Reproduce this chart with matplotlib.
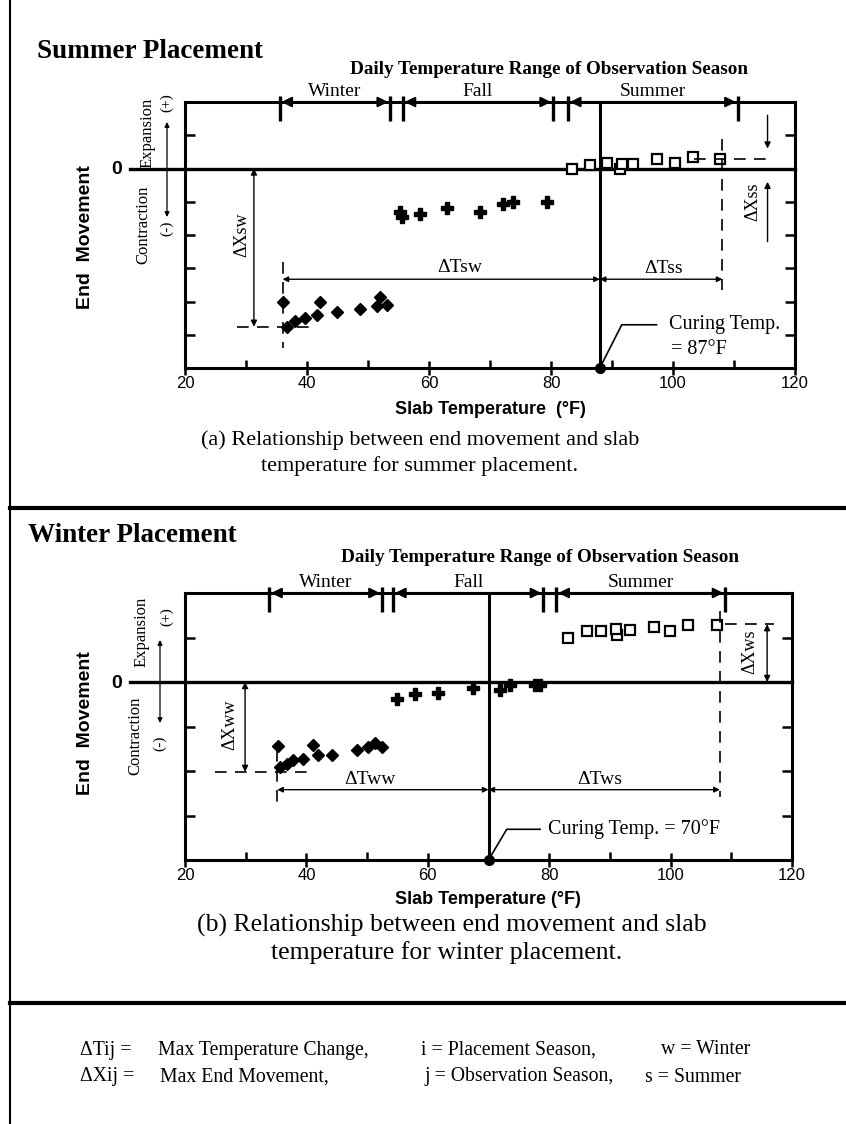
import matplotlib.pyplot as plt
from matplotlib.lines import Line2D

W, H = 846, 1124
SERIF = 'Liberation Serif'
SANS = 'Liberation Sans'

# (a) summer placement: slab temperature (F) vs end movement (scan units)
a_winter_t = [36.1, 36.7, 38.0, 39.7, 41.6, 42.1, 44.9, 48.7, 51.5, 52.0, 53.1]
a_winter_x = [-4.03, -4.76, -4.6, -4.5, -4.4, -4.0, -4.33, -4.24, -4.15, -3.85, -4.1]
a_fall_t = [55.2, 55.6, 58.5, 63.0, 68.4, 72.1, 73.8, 79.3]
a_fall_x = [-1.3, -1.45, -1.36, -1.18, -1.3, -1.06, -1.0, -1.0]
a_summer_t = [83.4, 86.4, 89.1, 91.3, 91.6, 93.5, 97.3, 100.3, 103.3, 107.7]
a_summer_x = [0.0, 0.12, 0.18, 0.0, 0.15, 0.15, 0.28, 0.18, 0.36, 0.30]
a_seasons = [35.5, 53.6, 55.7, 80.3, 82.8, 110.6]
a_cure = 88

# (b) winter placement
b_winter_t = [35.4, 35.7, 36.8, 37.8, 39.4, 41.1, 41.9, 44.2, 48.3, 50.1, 51.3, 52.4]
b_winter_x = [-1.43, -1.91, -1.84, -1.76, -1.73, -1.42, -1.64, -1.64, -1.53, -1.47, -1.36, -1.47]
b_fall_t = [54.9, 57.9, 61.7, 67.4, 71.9, 73.5, 77.7, 78.5]
b_fall_x = [-0.39, -0.28, -0.24, -0.13, -0.17, -0.06, -0.06, -0.06]
b_summer_t = [83.1, 86.2, 88.6, 91.1, 91.0, 93.3, 97.2, 99.9, 102.9, 107.6]
b_summer_x = [0.99, 1.14, 1.14, 1.05, 1.2, 1.16, 1.24, 1.14, 1.29, 1.29]
b_seasons = [33.9, 52.4, 54.3, 79.0, 81.2, 109.0]
b_cure = 70

season_names = ['Winter', 'Fall', 'Summer']


def px_axes(fig, left, top, right, bottom):
    return fig.add_axes([left / W, 1 - bottom / H, (right - left) / W, (bottom - top) / H])


def ftext(fig, x, y, s, **kw):
    fig.text(x / W, 1 - y / H, s, **kw)


def fline(fig, xs, ys, lw):
    fig.add_artist(Line2D([x / W for x in xs], [1 - y / H for y in ys], color='k', lw=lw))


def arrow(ax, p0, p1, style='<|-|>', lw=1.0, ms=10):
    ax.annotate('', xy=p1, xytext=p0, annotation_clip=False,
                arrowprops=dict(arrowstyle=style, color='k', lw=lw, shrinkA=0, shrinkB=0,
                                mutation_scale=ms))


def dashed(ax, xs, ys):
    ax.plot(xs, ys, color='k', lw=1.2, ls=(0, (7, 5)), clip_on=False)


def setup(ax, ylim):
    ax.set_xlim(20, 120)
    ax.set_ylim(*ylim)
    for s in ax.spines.values():
        s.set_linewidth(2.2)
    ax.set_xticks(range(20, 121, 20))
    ax.set_xticks(range(30, 120, 20), minor=True)
    ax.set_yticks(range(ylim[0], ylim[1] + 1))
    ax.set_yticklabels([])
    ax.tick_params(axis='x', which='major', direction='inout', length=10, width=1.8, labelsize=12, pad=1)
    ax.tick_params(axis='x', which='minor', direction='in', length=6, width=1.8)
    ax.tick_params(axis='y', direction='in', length=7, width=1.8, left=True, right=True)
    for lab in ax.get_xticklabels():
        lab.set_fontfamily(SANS)
    ax.plot([11, 120], [0, 0], color='k', lw=2.4, clip_on=False)


def season_bar(ax, edges, upp):
    top = ax.get_ylim()[1]
    ax.vlines(edges, top - 19 * upp, top + 6 * upp, color='k', lw=2.4, clip_on=False)
    for i, name in enumerate(season_names):
        lo, hi = edges[2 * i], edges[2 * i + 1]
        arrow(ax, (lo + 0.3, top), (hi - 0.3, top), lw=1.5, ms=15)
        ax.text((lo + hi) / 2, top + 2 * upp, name, ha='center', va='bottom',
                family=SERIF, fontsize=14)


def scatter(ax, wt, wx, ft, fx, st, sx):
    ax.plot(wt, wx, 'D', color='k', ms=6.5, clip_on=False)
    ax.plot(ft, fx, 'P', color='k', ms=8, clip_on=False)
    ax.plot(st, sx, 's', mfc='white', mec='k', mew=1.6, ms=7, clip_on=False)


def curing(ax, t, ybot, knee, end):
    ax.axvline(t, color='k', lw=2.2)
    ax.plot([t], [ybot], 'o', color='k', ms=7, clip_on=False)
    ax.plot([t, knee[0], end], [ybot, knee[1], knee[1]], color='k', lw=1.2, clip_on=False)


fig = plt.figure(figsize=(W / 100, H / 100), dpi=100)

# frame lines
fline(fig, [10, 10], [0, H], 1.5)
fline(fig, [10, W], [508, 508], 3)
fline(fig, [10, W], [1003, 1003], 3)

# ---------------- panel (a) ----------------
ax = px_axes(fig, 185, 102, 795, 368)
setup(ax, (-6, 2))
upp = 8 / 266
season_bar(ax, a_seasons, upp)
scatter(ax, a_winter_t, a_winter_x, a_fall_t, a_fall_x, a_summer_t, a_summer_x)
curing(ax, a_cure, -6, (91.6, -4.7), 97.3)
ax.text(99.3, -4.7, 'Curing Temp.', family=SERIF, fontsize=14.5, va='center')
ax.text(99.6, -5.45, '= 87°F', family=SERIF, fontsize=14.5, va='center')

arrow(ax, (31.3, 0), (31.3, -4.76), ms=9)
ax.text(29.3, -2.0, 'ΔXsw', rotation=90, family=SERIF, fontsize=13, ha='center', va='center')
dashed(ax, [28.5, 41.6], [-4.76, -4.76])
dashed(ax, [36, 36], [-2.8, -5.4])
arrow(ax, (36, -3.33), (a_cure, -3.33), ms=8)
arrow(ax, (a_cure, -3.33), (108.1, -3.33), ms=8)
ax.text(65, -2.97, 'ΔTsw', family=SERIF, fontsize=14, ha='center', va='center')
ax.text(98.4, -3.0, 'ΔTss', family=SERIF, fontsize=14, ha='center', va='center')
dashed(ax, [108.1, 108.1], [0.9, -3.64])
dashed(ax, [103.5, 116.5], [0.3, 0.3])
arrow(ax, (115.5, 1.6), (115.5, 0.6), style='-|>', ms=9)
arrow(ax, (115.5, -2.2), (115.5, -0.4), style='-|>', ms=9)
ax.text(113.1, -1.0, 'ΔXss', rotation=90, family=SERIF, fontsize=13, ha='center', va='center')

ftext(fig, 37, 52, 'Summer Placement', family=SERIF, weight='bold', fontsize=19.5, va='center')
ftext(fig, 549, 69, 'Daily Temperature Range of Observation Season', family=SERIF,
      weight='bold', fontsize=13.8, ha='center', va='center')
ftext(fig, 85, 237, 'End  Movement', family=SANS, weight='bold', fontsize=14, rotation=90,
      ha='center', va='center')
ftext(fig, 117, 170, '0', family=SANS, weight='bold', fontsize=14, ha='center', va='center')
ftext(fig, 148, 133, 'Expansion', family=SERIF, fontsize=12, rotation=90, ha='center', va='center')
ftext(fig, 167, 103, '(+)', family=SERIF, fontsize=11, rotation=90, ha='center', va='center')
ftext(fig, 143, 225, 'Contraction', family=SERIF, fontsize=12, rotation=90, ha='center', va='center')
ftext(fig, 167, 228, '(-)', family=SERIF, fontsize=11, rotation=90, ha='center', va='center')
ax.annotate('', xy=(167 / W, 1 - 122 / H), xytext=(167 / W, 1 - 217 / H), xycoords='figure fraction',
            arrowprops=dict(arrowstyle='<|-|>', color='k', lw=0.9, mutation_scale=7, shrinkA=0, shrinkB=0))
ftext(fig, 490, 410, 'Slab Temperature  (°F)', family=SANS, weight='bold', fontsize=13,
      ha='center', va='center')
ftext(fig, 420, 440, '(a) Relationship between end movement and slab', family=SERIF,
      fontsize=16, ha='center', va='center')
ftext(fig, 420, 466, 'temperature for summer placement.', family=SERIF,
      fontsize=16, ha='center', va='center')

# ---------------- panel (b) ----------------
ax = px_axes(fig, 185, 593, 792, 860)
setup(ax, (-4, 2))
upp = 6 / 267
season_bar(ax, b_seasons, upp)
scatter(ax, b_winter_t, b_winter_x, b_fall_t, b_fall_x, b_summer_t, b_summer_x)
curing(ax, b_cure, -4, (73.0, -3.31), 78.5)
ax.text(79.8, -3.31, 'Curing Temp. = 70°F', family=SERIF, fontsize=14.5, va='center')

arrow(ax, (29.9, 0), (29.9, -2.02), ms=9)
ax.text(27.4, -0.96, 'ΔXww', rotation=90, family=SERIF, fontsize=13, ha='center', va='center')
dashed(ax, [24.9, 40.1], [-2.02, -2.02])
dashed(ax, [35.2, 35.2], [-1.53, -2.73])
arrow(ax, (35.2, -2.42), (b_cure, -2.42), ms=8)
arrow(ax, (b_cure, -2.42), (108.1, -2.42), ms=8)
ax.text(50.5, -2.2, 'ΔTww', family=SERIF, fontsize=14, ha='center', va='center')
ax.text(88.4, -2.2, 'ΔTws', family=SERIF, fontsize=14, ha='center', va='center')
dashed(ax, [108.1, 108.1], [1.6, -2.58])
dashed(ax, [109, 117], [1.3, 1.3])
arrow(ax, (115.9, 1.3), (115.9, 0), ms=9)
ax.text(113.1, 0.69, 'ΔXws', rotation=90, family=SERIF, fontsize=13, ha='center', va='center')

ftext(fig, 28, 535, 'Winter Placement', family=SERIF, weight='bold', fontsize=19.5, va='center')
ftext(fig, 540, 558, 'Daily Temperature Range of Observation Season', family=SERIF,
      weight='bold', fontsize=13.8, ha='center', va='center')
ftext(fig, 85, 723, 'End  Movement', family=SANS, weight='bold', fontsize=14, rotation=90,
      ha='center', va='center')
ftext(fig, 117, 683, '0', family=SANS, weight='bold', fontsize=14, ha='center', va='center')
ftext(fig, 142, 632, 'Expansion', family=SERIF, fontsize=12, rotation=90, ha='center', va='center')
ftext(fig, 167, 617, '(+)', family=SERIF, fontsize=11, rotation=90, ha='center', va='center')
ftext(fig, 135, 736, 'Contraction', family=SERIF, fontsize=12, rotation=90, ha='center', va='center')
ftext(fig, 160, 743, '(-)', family=SERIF, fontsize=11, rotation=90, ha='center', va='center')
ax.annotate('', xy=(160 / W, 1 - 640 / H), xytext=(160 / W, 1 - 723 / H), xycoords='figure fraction',
            arrowprops=dict(arrowstyle='<|-|>', color='k', lw=0.9, mutation_scale=7, shrinkA=0, shrinkB=0))
ftext(fig, 488, 900, 'Slab Temperature (°F)', family=SANS, weight='bold', fontsize=13,
      ha='center', va='center')
ftext(fig, 452, 925, '(b) Relationship between end movement and slab', family=SERIF,
      fontsize=18.5, ha='center', va='center')
ftext(fig, 447, 953, 'temperature for winter placement.', family=SERIF,
      fontsize=18.5, ha='center', va='center')

# ---------------- definitions ----------------
fs = 14.2
ftext(fig, 80, 1050, 'ΔTij =', family=SERIF, fontsize=fs, va='center')
ftext(fig, 158, 1050, 'Max Temperature Change,', family=SERIF, fontsize=fs, va='center')
ftext(fig, 421, 1050, 'i = Placement Season,', family=SERIF, fontsize=fs, va='center')
ftext(fig, 661, 1050, 'w = Winter', family=SERIF, fontsize=fs, va='center')
ftext(fig, 80, 1077, 'ΔXij =', family=SERIF, fontsize=fs, va='center')
ftext(fig, 160, 1077, 'Max End Movement,', family=SERIF, fontsize=fs, va='center')
ftext(fig, 424, 1077, 'j = Observation Season,', family=SERIF, fontsize=fs, va='center')
ftext(fig, 645, 1077, 's = Summer', family=SERIF, fontsize=fs, va='center')

fig.savefig('out.png', dpi=100)
